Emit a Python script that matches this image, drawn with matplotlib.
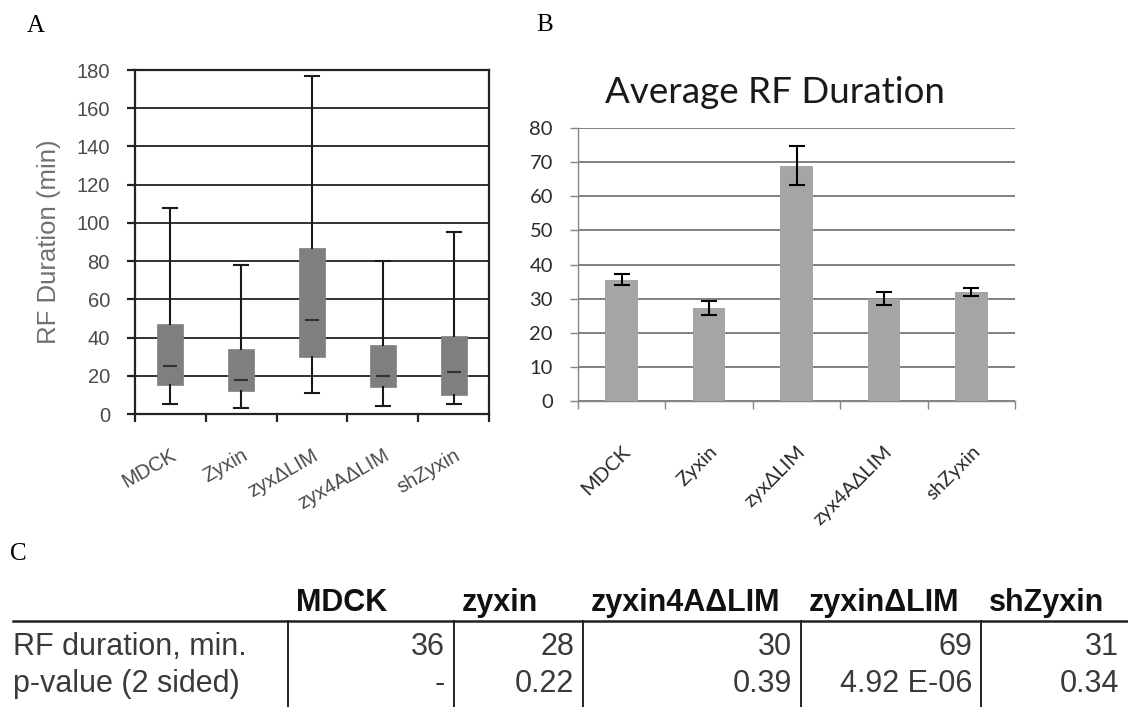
"""Figure: RF duration per cell line (box summary, average bars, table)."""

import matplotlib

matplotlib.use("Agg")

import matplotlib.pyplot as plt
from matplotlib.lines import Line2D
import numpy as np

W, H = 1128, 707

# panel A: box summary per cell line (min)
box_labels = ["MDCK", "Zyxin", "zyx\u0394LIM", "zyx4A\u0394LIM", "shZyxin"]
box_whislo = [5, 3, 11, 4, 5]
box_q1 = [15, 12, 30, 14, 10]
box_med = [25, 18, 49, 20, 22]
box_q3 = [47, 34, 87, 36, 41]
box_whishi = [108, 78, 177, 80, 95]

# panel B: average RF duration with error bars
bar_labels = ["MDCK", "Zyxin", "zyx\u0394LIM", "zyx4A\u0394LIM", "shZyxin"]
bar_means = [35.5, 27.3, 69.0, 30.0, 32.0]
bar_err = [1.6, 2.0, 5.6, 2.0, 1.1]

# panel C: summary table
table_cols = ["MDCK", "zyxin", "zyxin4A\u0394LIM", "zyxin\u0394LIM", "shZyxin"]
table_rows = ["RF duration, min.", "p-value (2 sided)"]
table_duration = ["36", "28", "30", "69", "31"]
table_pvalue = ["-", "0.22", "0.39", "4.92 E-06", "0.34"]


def fx(px):
    return px / W


def fy(py):
    return 1 - py / H


def ax_rect(left, top, right, bottom):
    return [fx(left), fy(bottom), (right - left) / W, (bottom - top) / H]


fig = plt.figure(figsize=(W / 100, H / 100), dpi=100)
fig.patch.set_facecolor("white")

serif = "Liberation Serif"
sans = "Liberation Sans"
calib = "Lato"

# ---------------- panel A ----------------
axA = fig.add_axes(ax_rect(135, 70, 489, 414))
pos = np.arange(len(box_labels))
stats = [
    dict(whislo=lo, q1=q1, med=m, q3=q3, whishi=hi, fliers=[])
    for lo, q1, m, q3, hi in zip(box_whislo, box_q1, box_med, box_q3, box_whishi)
]
axA.bxp(
    stats,
    positions=pos,
    widths=0.37,
    patch_artist=True,
    showfliers=False,
    capwidths=0.2,
    boxprops=dict(facecolor="#7f7f7f", edgecolor="#7f7f7f", linewidth=0.5),
    whiskerprops=dict(color="#1a1a1a", linewidth=1.5),
    capprops=dict(color="#1a1a1a", linewidth=1.5),
    medianprops=dict(visible=False),
    zorder=3,
)
axA.plot(pos, box_med, linestyle="none", marker="_", markersize=10,
         markeredgewidth=1.5, color="#333333", zorder=4)
axA.set_xlim(-0.5, len(box_labels) - 0.5)
axA.set_ylim(0, 180)
axA.set_yticks(np.arange(0, 181, 20))
axA.grid(axis="y", color="#222222", linewidth=1.3)
axA.set_axisbelow(True)
for s in axA.spines.values():
    s.set_color("#222222")
    s.set_linewidth(1.6)
axA.set_xticks(pos)
axA.set_xticklabels(box_labels, rotation=30, ha="right", va="top",
                    rotation_mode="anchor", fontsize=14.5, color="#4a4a4a",
                    family=sans)
axA.set_xticks(np.arange(-0.5, len(box_labels)), minor=True)
axA.tick_params(axis="x", which="major", length=0, pad=23)
axA.tick_params(axis="x", which="minor", length=6, width=1.6, color="#222222")
axA.tick_params(axis="y", length=6, width=1.6, color="#222222", pad=12,
                labelsize=14.5, labelcolor="#4a4a4a")
for lab in axA.get_yticklabels():
    lab.set_family(sans)
axA.set_ylabel("RF Duration (min)", fontsize=18.5, color="#707070", family=sans)
axA.yaxis.set_label_coords(-0.21, 0.5)

# ---------------- panel B ----------------
axB = fig.add_axes(ax_rect(578, 128, 1015, 401))
posB = np.arange(len(bar_labels))
axB.bar(posB, bar_means, width=0.375, color="#a5a5a5", zorder=3)
axB.errorbar(posB, bar_means, yerr=bar_err, fmt="none", ecolor="black",
             elinewidth=1.5, capsize=6, capthick=1.5, zorder=4)
axB.set_xlim(-0.5, len(bar_labels) - 0.5)
axB.set_ylim(0, 80)
axB.set_yticks(np.arange(0, 81, 10))
axB.grid(axis="y", color="#808080", linewidth=1.4)
axB.set_axisbelow(True)
for side in ["top", "right"]:
    axB.spines[side].set_visible(False)
for side in ["left", "bottom"]:
    axB.spines[side].set_color("#868686")
    axB.spines[side].set_linewidth(1.0)
axB.set_xticks(posB)
axB.set_xticklabels(bar_labels, rotation=45, ha="right", va="top",
                    rotation_mode="anchor", fontsize=14.5, color="#2a2a2a",
                    family=calib)
axB.set_xticks(np.arange(-0.5, len(bar_labels)), minor=True)
axB.tick_params(axis="x", which="major", length=0, pad=30)
axB.tick_params(axis="x", which="minor", length=6, width=1.0, color="#868686")
axB.tick_params(axis="y", length=6, width=1.0, color="#868686", pad=12,
                labelsize=14.5, labelcolor="#2a2a2a")
for lab in axB.get_yticklabels():
    lab.set_family(calib)
fig.text(fx(775), fy(103), "Average RF Duration", ha="center", va="baseline",
         fontsize=26.5, family=calib, color="#1a1a1a")

# ---------------- panel letters ----------------
fig.text(fx(27), fy(32), "A", fontsize=18, family=serif, va="baseline")
fig.text(fx(536), fy(31), "B", fontsize=18, family=serif, va="baseline")
fig.text(fx(10), fy(560), "C", fontsize=18, family=serif, va="baseline")

# ---------------- panel C: table ----------------
col_lines = [288, 454, 583, 801, 981, W]
header_y, line_y = 611, 621
row_y = [655, 692]

fig.add_artist(Line2D([fx(13), fx(W)], [fy(line_y), fy(line_y)],
                      color="#222222", linewidth=1.8))
for xl in col_lines[:-1]:
    fig.add_artist(Line2D([fx(xl), fx(xl)], [fy(line_y), fy(H)],
                          color="#222222", linewidth=1.4))

for i, name in enumerate(table_cols):
    fig.text(fx(col_lines[i] + 8), fy(header_y), name, ha="left", va="baseline",
             fontsize=22, fontweight="bold", family=sans, color="#111111")

for r, label in enumerate(table_rows):
    fig.text(fx(13), fy(row_y[r]), label, ha="left", va="baseline",
             fontsize=22, family=sans, color="#3a3a3a")

for r, vals in enumerate([table_duration, table_pvalue]):
    for i, v in enumerate(vals):
        fig.text(fx(col_lines[i + 1] - 9), fy(row_y[r]), v, ha="right",
                 va="baseline", fontsize=22, family=sans, color="#3a3a3a")

fig.savefig("out.png", dpi=100)
